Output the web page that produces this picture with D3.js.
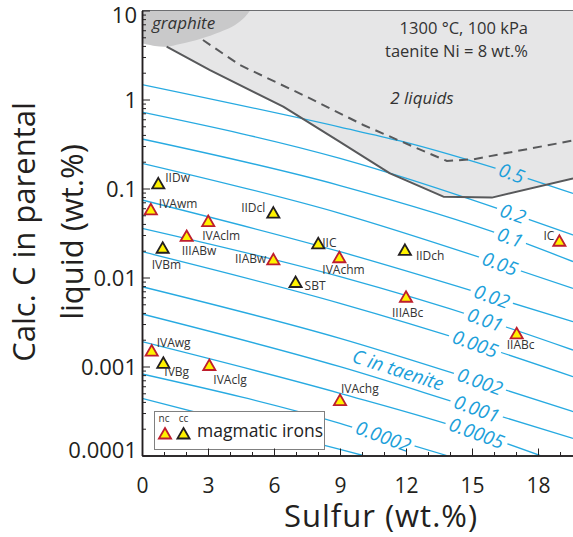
<!DOCTYPE html>
<html>
<head>
<meta charset="utf-8">
<script src="https://cdn.jsdelivr.net/npm/d3@7"></script>
<style>
body { margin: 0; background: #fff; }
svg { display: block; font-family: "Open Sans", sans-serif; }
</style>
</head>
<body>
<div id="chart"></div>
<script>
// ---- data ----
// iso-lines of C in taenite (wt.%), points are [S wt.%, C in liquid wt.%]
var contourLabels = ["0.5", "0.2", "0.1", "0.05", "0.02", "0.01", "0.005", "0.002", "0.001", "0.0005", "0.0002", "0.0001"];
var contourPoints = [
    [[0, 1.47], [9, 0.49], [11.73, 0.342], [16.8, 0.148], [19.59, 0.088]],
    [[0, 0.72], [9, 0.218], [16.86, 0.052], [19.59, 0.030]],
    [[0, 0.36], [9, 0.108], [16.73, 0.028], [19.59, 0.0151]],
    [[0, 0.192], [9, 0.0526], [16.27, 0.0142], [19.59, 0.00756]],
    [[0, 0.0743], [9, 0.0195], [15.9, 0.00608], [19.59, 0.00319]],
    [[0, 0.0357], [9, 0.0102], [15.59, 0.00333], [19.59, 0.00153]],
    [[0, 0.0195], [9, 0.00513], [15.14, 0.00179], [19.59, 0.000768]],
    [[0, 0.00788], [9, 0.00207], [15.36, 0.000675], [19.59, 0.000311]],
    [[0, 0.00389], [9, 0.000995], [15.21, 0.000333], [19.59, 0.000156]],
    [[0, 0.0019], [9, 0.0005], [15.21, 0.000178], [18.09, 0.0001]],
    [[0, 0.000824], [9, 0.00023], [10.97, 0.000163], [13.85, 0.0001]],
    [[0, 0.000439], [9, 0.000117], [10.05, 0.0001]]
];
// S where each iso-line carries its label (null = no label)
var contourLabelS = [16.8, 16.86, 16.73, 16.27, 15.9, 15.59, 15.14, 15.36, 15.21, 15.21, 10.97, null];

// two-liquid field boundary (solid) and dashed boundary
var liquidusS = [1.12, 3.09, 6.42, 8.85, 11.27, 13.7, 15.9, 19.59];
var liquidusC = [3.92, 2.14, 0.83, 0.351, 0.148, 0.081, 0.079, 0.13];
var dashS = [2.77, 4.45, 7.33, 10.06, 12.33, 13.86, 15.06, 19.59];
var dashC = [4.66, 2.44, 1.12, 0.517, 0.295, 0.204, 0.213, 0.346];
// graphite field lower edge
var graphS = [0, 0.59, 1.12, 1.73, 2.64, 3.55, 4.23, 4.68, 4.91];
var graphC = [4.28, 3.99, 3.92, 4.20, 4.79, 5.73, 6.87, 8.45, 10];

// magmatic iron groups
var ironNames = ["IIDw", "IVAwm", "IIDcl", "IVAclm", "IIIABw", "IVBm", "IIC", "IIABw", "IVAchm",
                 "IIDch", "IC", "SBT", "IIIABc", "IIABc", "IVAwg", "IVBg", "IVAclg", "IVAchg"];
var ironS = [0.74, 0.40, 5.97, 3.01, 2.03, 0.94, 8.01, 5.97, 8.97, 11.95, 18.97, 6.98, 12.0, 17.03, 0.44, 0.97, 3.06, 9.0];
var ironC = [0.114, 0.0584, 0.0535, 0.0431, 0.0293, 0.0216, 0.0242, 0.0160, 0.0169, 0.0204, 0.0259,
             0.0089, 0.00608, 0.00236, 0.00151, 0.00110, 0.00104, 0.00042];
var ironType = ["cc", "nc", "cc", "nc", "nc", "cc", "cc", "nc", "nc", "cc", "nc", "cc", "nc", "nc", "nc", "cc", "nc", "nc"];

// axis ticks
var xMajor = [0, 3, 6, 9, 12, 15, 18];
var yMajor = [1e-4, 1e-3, 1e-2, 1e-1, 1, 10];
var yMajorLabels = ["0.0001", "0.001", "0.01", "0.1", "1", "10"];

// ---- layout ----
var W = 573, H = 537;
var plotL = 142, plotR = 573, plotT = 10.5, plotB = 455.5;
var blue = "#27aae1", blueText = "#1c9fda", ink = "#231f20", grey = "#58595b";

// label placement next to each marker: dx, dy (baseline), anchor
var ironLabelPos = {
    IIDw: [7, -1, "start"], IVAwm: [8, -1, "start"], IIDcl: [-8, -1, "end"],
    IVAclm: [-6, 19, "start"], IIIABw: [-5, 19, "start"], IVBm: [-11, 21, "start"],
    IIC: [4, 4, "start"], IIABw: [-7, 4, "end"], IVAchm: [-17, 17, "start"],
    IIDch: [11, 10, "start"], IC: [-5, -1, "end"], SBT: [9, 8, "start"],
    IIIABc: [-14, 20, "start"], IIABc: [-10, 16, "start"], IVAwg: [5, -4, "start"],
    IVBg: [1, 13, "start"], IVAclg: [4, 19, "start"], IVAchg: [1, -7, "start"]
};

var x = d3.scaleLinear().domain([0, 19.59]).range([plotL, plotR]);
var y = d3.scaleLog().domain([1e-4, 10]).range([plotB, plotT]);

var svg = d3.select("#chart").append("svg")
    .attr("width", W)
    .attr("height", H);

var defs = svg.append("defs");
defs.append("clipPath").attr("id", "plotclip")
    .append("rect")
    .attr("x", plotL).attr("y", plotT)
    .attr("width", plotR - plotL).attr("height", plotB - plotT);

var mask = defs.append("mask").attr("id", "lblmask")
    .attr("maskUnits", "userSpaceOnUse")
    .attr("x", 0).attr("y", 0).attr("width", W).attr("height", H);
mask.append("rect").attr("width", W).attr("height", H).attr("fill", "white");

var plot = svg.append("g").attr("clip-path", "url(#plotclip)");

// light grey two-liquid field
var liq = liquidusS.map(function (s, i) { return [x(s), y(liquidusC[i])]; });
var field = [[x(0), y(10)], [x(19.59), y(10)]]
    .concat(liq.slice().reverse())
    .concat([[x(graphS[0]), y(graphC[0])]]);
plot.append("path")
    .attr("d", d3.line()(field) + "Z")
    .attr("fill", "#e6e6e7");

// graphite field
var gr = graphS.map(function (s, i) { return [x(s), y(graphC[i])]; });
plot.append("path")
    .attr("d", d3.line().curve(d3.curveCatmullRom)(gr) + "L" + x(0) + "," + y(10) + "Z")
    .attr("fill", "#c9c9ca");

// iso-lines of C in taenite
var isoLine = d3.line()
    .x(function (d) { return x(d[0]); })
    .y(function (d) { return y(d[1]); })
    .curve(d3.curveMonotoneX);

plot.append("g").attr("mask", "url(#lblmask)")
    .selectAll("path")
    .data(contourPoints)
    .join("path")
    .attr("d", isoLine)
    .attr("fill", "none")
    .attr("stroke", blue)
    .attr("stroke-width", 1.3);

// boundaries
plot.append("path")
    .attr("d", d3.line()(liq))
    .attr("fill", "none")
    .attr("stroke", grey)
    .attr("stroke-width", 2)
    .attr("stroke-linejoin", "round");
plot.append("path")
    .attr("d", d3.line()(dashS.map(function (s, i) { return [x(s), y(dashC[i])]; })))
    .attr("fill", "none")
    .attr("stroke", grey)
    .attr("stroke-width", 2)
    .attr("stroke-dasharray", "9,6");

// field texts
plot.append("text").attr("x", 152).attr("y", 29)
    .attr("font-size", 17).attr("font-style", "italic").attr("fill", "#333")
    .text("graphite");
svg.append("text").attr("x", 422).attr("y", 104)
    .attr("text-anchor", "middle")
    .attr("font-size", 17).attr("font-style", "italic").attr("fill", "#333")
    .text("2 liquids");
svg.append("text").attr("x", 528).attr("y", 34)
    .attr("text-anchor", "end").attr("font-size", 16.5).attr("fill", "#333")
    .text("1300 °C, 100 kPa");
svg.append("text").attr("x", 528).attr("y", 57)
    .attr("text-anchor", "end").attr("font-size", 16.5).attr("fill", "#333")
    .text("taenite Ni = 8 wt.%");

// iso-line labels, with a gap cut out of the lines
function cAt(pts, s) {
    for (var i = 1; i < pts.length; i++) {
        if (s <= pts[i][0]) {
            var t = (s - pts[i - 1][0]) / (pts[i][0] - pts[i - 1][0]);
            return Math.pow(10, Math.log10(pts[i - 1][1]) + t * (Math.log10(pts[i][1]) - Math.log10(pts[i - 1][1])));
        }
    }
    return pts[pts.length - 1][1];
}
var angle = 20;
contourLabels.forEach(function (lab, i) {
    var s = contourLabelS[i];
    if (s == null) return;
    var cx = x(s), cy = y(cAt(contourPoints[i], s));
    var t = svg.append("text")
        .attr("transform", "translate(" + cx + "," + cy + ") rotate(" + angle + ")")
        .attr("text-anchor", "middle")
        .attr("dy", "0.35em")
        .attr("font-size", 19)
        .attr("font-style", "italic")
        .attr("fill", blueText)
        .text(lab);
    var w = t.node().getComputedTextLength();
    mask.append("rect")
        .attr("transform", "translate(" + cx + "," + cy + ") rotate(" + angle + ")")
        .attr("x", -w / 2 - 4).attr("y", -7)
        .attr("width", w + 8).attr("height", 14)
        .attr("fill", "black");
});
svg.append("text")
    .attr("transform", "translate(398,370) rotate(18)")
    .attr("text-anchor", "middle")
    .attr("dy", "0.35em")
    .attr("font-size", 19)
    .attr("font-style", "italic")
    .attr("fill", blueText)
    .text("C in taenite");

// markers
var tri = d3.symbol().type(d3.symbolTriangle).size(64);
var irons = svg.append("g");
irons.selectAll("path")
    .data(ironNames)
    .join("path")
    .attr("transform", function (d, i) { return "translate(" + x(ironS[i]) + "," + (y(ironC[i]) + 1.5) + ")"; })
    .attr("d", tri)
    .attr("fill", "#fff200")
    .attr("stroke", function (d, i) { return ironType[i] == "nc" ? "#be1e2d" : ink; })
    .attr("stroke-width", 1.8);
irons.selectAll("text")
    .data(ironNames)
    .join("text")
    .attr("x", function (d, i) { return x(ironS[i]) + ironLabelPos[d][0]; })
    .attr("y", function (d, i) { return y(ironC[i]) + ironLabelPos[d][1]; })
    .attr("text-anchor", function (d) { return ironLabelPos[d][2]; })
    .attr("font-size", 12)
    .attr("fill", "#333")
    .text(function (d) { return d; });

// legend
var lg = svg.append("g");
lg.append("rect")
    .attr("x", 154.5).attr("y", 411.5)
    .attr("width", 170).attr("height", 38)
    .attr("fill", "#fff").attr("stroke", "#808080").attr("stroke-width", 1);
lg.append("text").attr("x", 164).attr("y", 422).attr("text-anchor", "middle")
    .attr("font-size", 10).attr("fill", "#333").text("nc");
lg.append("text").attr("x", 183.5).attr("y", 422).attr("text-anchor", "middle")
    .attr("font-size", 10).attr("fill", "#333").text("cc");
lg.append("path").attr("transform", "translate(165,435)").attr("d", tri)
    .attr("fill", "#fff200").attr("stroke", "#be1e2d").attr("stroke-width", 1.8);
lg.append("path").attr("transform", "translate(183.5,435)").attr("d", tri)
    .attr("fill", "#fff200").attr("stroke", ink).attr("stroke-width", 1.8);
lg.append("text").attr("x", 197).attr("y", 437)
    .attr("font-size", 17.5).attr("fill", "#222").text("magmatic irons");

// frame top
svg.append("line")
    .attr("x1", plotL).attr("x2", plotR).attr("y1", plotT).attr("y2", plotT)
    .attr("stroke", "#6d6e71").attr("stroke-width", 1.2);

// axes
var yMinor = [];
yMajor.slice(0, -1).forEach(function (d) {
    for (var k = 2; k < 10; k++) yMinor.push(k * d);
});
var xMinor = d3.range(0, 20).filter(function (d) { return d % 3 != 0; });

function styleAxis(g) {
    g.selectAll(".domain").attr("stroke", ink).attr("stroke-width", 1.5);
    g.selectAll(".tick line").attr("stroke", ink).attr("stroke-width", 1);
    g.selectAll("text").attr("font-family", "'Open Sans', sans-serif").attr("fill", "#231f20");
}

svg.append("g")
    .attr("transform", "translate(" + plotL + ",0)")
    .call(d3.axisLeft(y).tickValues(yMinor).tickFormat("").tickSize(-4).tickSizeOuter(0))
    .call(styleAxis);
var yAx = svg.append("g")
    .attr("transform", "translate(" + plotL + ",0)")
    .call(d3.axisLeft(y).tickValues(yMajor)
        .tickFormat(function (d) { return yMajorLabels[yMajor.indexOf(d)]; })
        .tickSize(-8).tickSizeOuter(0).tickPadding(5))
    .call(styleAxis);
yAx.selectAll("text").attr("font-size", 22)
    .attr("dy", function (d) { return d == 10 ? "0.55em" : d == 1e-4 ? "0.1em" : "0.35em"; });

svg.append("g")
    .attr("transform", "translate(0," + plotB + ")")
    .call(d3.axisBottom(x).tickValues(xMinor).tickFormat("").tickSize(-3.5).tickSizeOuter(0))
    .call(styleAxis);
var xAx = svg.append("g")
    .attr("transform", "translate(0," + plotB + ")")
    .call(d3.axisBottom(x).tickValues(xMajor).tickSize(-7).tickSizeOuter(0).tickPadding(23))
    .call(styleAxis);
xAx.selectAll("text").attr("font-size", 21);

// axis titles
svg.append("text")
    .attr("x", 381).attr("y", 527)
    .attr("text-anchor", "middle")
    .attr("font-size", 31).attr("letter-spacing", 1)
    .attr("fill", "#231f20")
    .text("Sulfur (wt.%)");
svg.append("text")
    .attr("transform", "translate(35,232) rotate(-90)")
    .attr("text-anchor", "middle")
    .attr("font-size", 31).attr("fill", "#231f20")
    .text("Calc. C in parental");
svg.append("text")
    .attr("transform", "translate(83,232) rotate(-90)")
    .attr("text-anchor", "middle")
    .attr("font-size", 31).attr("fill", "#231f20")
    .text("liquid (wt.%)");
</script>
</body>
</html>
